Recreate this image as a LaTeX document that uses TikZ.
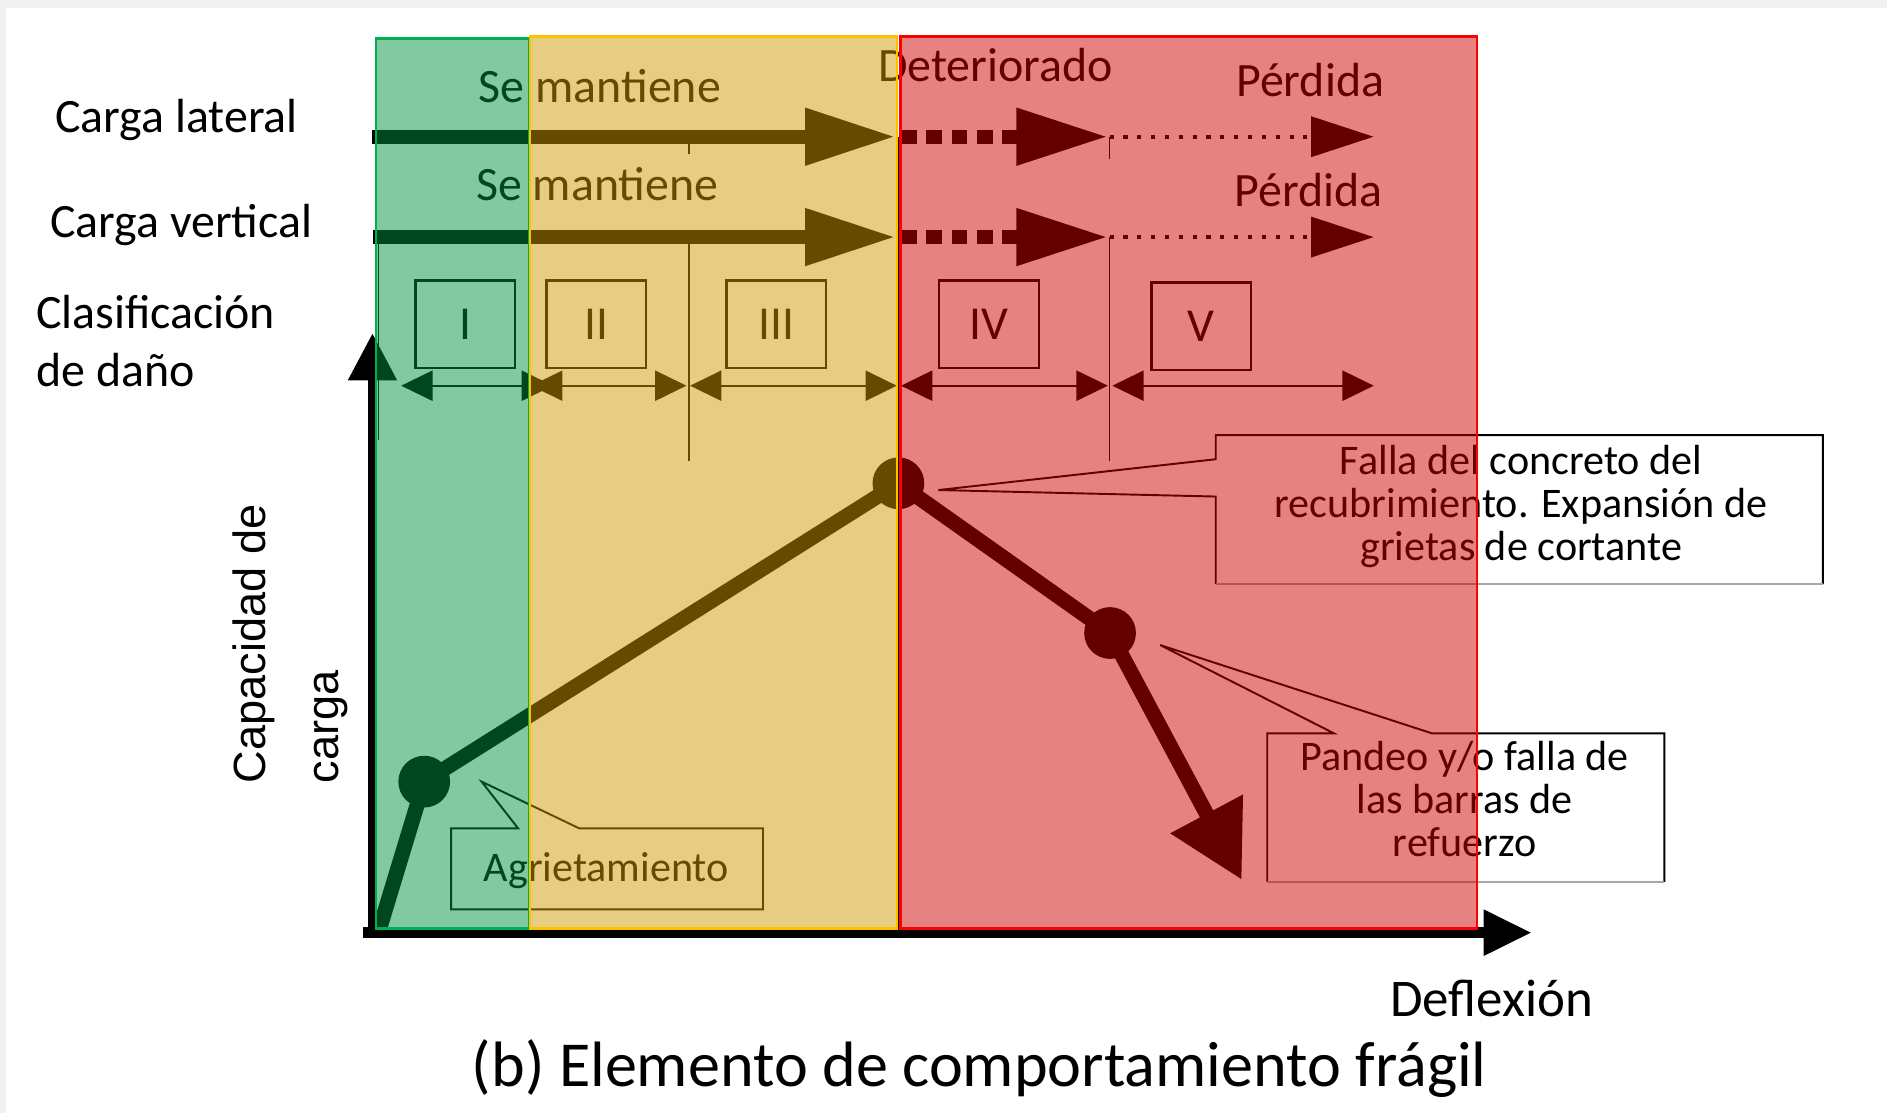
\documentclass[tikz,border=0pt]{standalone}
\usepackage{fontspec}
\setmainfont{Carlito}
\newfontfamily\arialfont{Liberation Sans}
\usetikzlibrary{arrows.meta}
\definecolor{ovgreen}{RGB}{0,143,65}
\definecolor{ovyellow}{RGB}{208,155,0}
\definecolor{ovred}{RGB}{208,0,0}
\definecolor{bdgreen}{RGB}{0,176,80}
\definecolor{bdyellow}{RGB}{255,192,0}
\definecolor{bdred}{RGB}{255,0,0}
\definecolor{bggray}{RGB}{240,240,240}
\begin{document}
\begin{tikzpicture}[x=1pt,y=-1pt,
  lbl/.style={inner sep=0pt, font=\fontsize{39.8}{47}\selectfont, anchor=base west},
  calltxt/.style={inner sep=0pt, font=\fontsize{35}{40}\selectfont, anchor=base},
  numtxt/.style={inner sep=0pt, font=\fontsize{39.3}{47}\selectfont},
  ylbl/.style={inner sep=0pt, font=\arialfont\fontsize{37.5}{45}\selectfont, anchor=base west, rotate=90},
  numbox/.style={draw=black, line width=2pt},
  solidarrow/.style={line width=11.5pt, -{Triangle[length=75pt,width=45pt]}},
  dasharrow/.style={line width=11.5pt, dash pattern=on 13pt off 8pt, -{Triangle[length=76pt,width=45pt]}},
  dotarrow/.style={line width=3.6pt, dash pattern=on 3.4pt off 8.1pt, -{Triangle[length=52pt,width=33pt]}},
  dimarrow/.style={line width=1.6pt, {Triangle[length=26pt,width=25pt]}-{Triangle[length=26pt,width=25pt]}},
  thinline/.style={line width=1.3pt},
  callout/.style={line width=1.6pt, line join=miter},
  curve/.style={line width=12.5pt, line join=round},
  dot/.style={fill=black},
  overlay/.style={fill opacity=0.49, draw opacity=1, line width=2pt}
]
\useasboundingbox (0,0) rectangle (1568,925);
% background
\fill[bggray] (0,0) rectangle (1568,925);
\fill[white] (5,7) rectangle (1568,925);

% ---------- coordinates ----------
\coordinate (latS) at (309,113.6);
\coordinate (latA) at (744,113.6);
\coordinate (latB) at (748.8,113.6);
\coordinate (latC) at (920.5,113.6);
\coordinate (latD) at (922,113.6);
\coordinate (latE) at (1141.5,113.6);
\coordinate (verS) at (310,197);
\coordinate (verA) at (744,197);
\coordinate (verB) at (748.8,197);
\coordinate (verC) at (920.5,197);
\coordinate (verD) at (922,197);
\coordinate (verE) at (1141.5,197);

% load arrows
\draw[solidarrow] (latS) -- (latA);
\draw[dasharrow] (latB) -- (latC);
\draw[dotarrow] (latD) -- (latE);
\draw[solidarrow] (verS) -- (verA);
\draw[dasharrow] (verB) -- (verC);
\draw[dotarrow] (verD) -- (verE);

% ticks and division lines
\coordinate (t1a) at (440.6,113.6); \coordinate (t1b) at (440.6,128);
\coordinate (t2a) at (572.6,113.6); \coordinate (t2b) at (572.6,128);
\coordinate (t3a) at (922,113.6);   \coordinate (t3b) at (922,132);
\draw[thinline] (t1a) -- (t1b);
\draw[thinline] (t2a) -- (t2b);
\draw[thinline] (t3a) -- (t3b);
\coordinate (v0a) at (314.4,197); \coordinate (v0b) at (314.4,366);
\coordinate (v1a) at (440.6,197); \coordinate (v1b) at (440.6,383);
\coordinate (v2a) at (572.6,197); \coordinate (v2b) at (572.6,383);
\coordinate (v3a) at (922,197);   \coordinate (v3b) at (922,383);
\coordinate (v4a) at (746.8,113.6); \coordinate (v4b) at (746.8,771);
\draw[thinline] (v0a) -- (v0b);
\draw[thinline] (v1a) -- (v1b);
\draw[thinline] (v2a) -- (v2b);
\draw[thinline] (v3a) -- (v3b);
\draw[line width=1.2pt] (v4a) -- (v4b);

% damage classification boxes
\node[numbox, minimum width=82.7pt, minimum height=72.8pt, inner sep=0pt, numtxt] (bI) at (386.5,269.6) {I};
\node[numbox, minimum width=82.7pt, minimum height=72.8pt, inner sep=0pt, numtxt] (bII) at (495.6,269.6) {II};
\node[numbox, minimum width=82.7pt, minimum height=72.8pt, inner sep=0pt, numtxt] (bIII) at (645,269.6) {III};
\node[numbox, minimum width=82.7pt, minimum height=72.8pt, inner sep=0pt, numtxt] (bIV) at (821.8,269.6) {IV};
\node[numbox, minimum width=82.7pt, minimum height=72.8pt, inner sep=0pt, numtxt] (bV) at (998.3,271) {V};

% dimension arrows
\coordinate (d1a) at (333.4,320.5); \coordinate (d1b) at (459.5,320.5);
\coordinate (d2a) at (441.4,320.5); \coordinate (d2b) at (570.4,320.5);
\coordinate (d3a) at (573.4,320.5); \coordinate (d3b) at (745.2,320.5);
\coordinate (d4a) at (748.7,320.5); \coordinate (d4b) at (920.5,320.5);
\coordinate (d5a) at (924.3,320.5); \coordinate (d5b) at (1141.5,320.5);
\draw[dimarrow] (d1a) -- (d1b);
\draw[dimarrow] (d2a) -- (d2b);
\draw[dimarrow] (d3a) -- (d3b);
\draw[dimarrow] (d4a) -- (d4b);
\draw[dimarrow] (d5a) -- (d5b);

% axes
\coordinate (yax0) at (309.5,779);
\coordinate (yax1) at (309.5,277);
\coordinate (xax0) at (302,775);
\coordinate (xax1) at (1272.8,775);
\draw[line width=7pt, -{Triangle[length=39pt,width=39pt]}] (yax0) -- (yax1);
\draw[line width=9pt, -{Triangle[length=40pt,width=36pt]}] (xax0) -- (xax1);

% capacity curve
\coordinate (p0) at (315,773);
\coordinate (p1) at (352.5,649.5);
\coordinate (p2) at (746.5,401.6);
\coordinate (p3) at (922.4,526);
\coordinate (p4) at (1031.8,731);
\draw[curve] (p0) -- (p1) -- (p2) -- (p3);
\draw[line width=12.5pt, -{Triangle[length=62pt,width=65pt]}] (p3) -- (p4);
\fill[dot] (p1) circle (21.5);
\fill[dot] (p2) circle (21.5);
\fill[dot] (p3) circle (21.5);

% callouts
\draw[callout] (481.3,688.3) -- (634,688.3) -- (634,755.6) -- (374.8,755.6) -- (374.8,688.3) -- (430.5,688.3) -- (400.2,649.5) -- cycle;
\node[inner sep=0pt, font=\fontsize{35}{40}\selectfont, anchor=base west] (agr) at (401.8,732.6) {Agrietamiento};

\draw[callout] (1010.2,485.3) -- (1010.2,412.6) -- (779.7,407.2) -- (1010.2,381.6) -- (1010.2,361.5) -- (1514.7,361.5) -- (1514.7,485.3);
\draw[line width=1.3pt, black!35] (1010.2,485.3) -- (1514.7,485.3);
\node[calltxt] (f1) at (1264,394) {Falla del concreto del};
\node[calltxt] (f2) at (1264,430) {recubrimiento. Expansión de};
\node[calltxt] (f3) at (1264,466) {grietas de cortante};

\draw[callout] (1053,732.7) -- (1053,609.4) -- (1108.5,609.4) -- (964,536) -- (1190,609.4) -- (1383,609.4) -- (1383,732.7);
\draw[line width=1.3pt, black!35] (1053,732.7) -- (1383,732.7);
\node[calltxt] (g1) at (1217,640) {Pandeo y/o falla de};
\node[calltxt] (g2) at (1217,676) {las barras de};
\node[calltxt] (g3) at (1217,712) {refuerzo};

% texts
\node[lbl] (tlat) at (45.7,110.2) {Carga lateral};
\node[lbl] (tver) at (41.5,197.2) {Carga vertical};
\node[lbl] (tcla) at (29.9,272.8) {Clasificación};
\node[lbl] (tdan) at (29.9,321.3) {de daño};
\node[lbl] (sm1) at (397.6,85.3) {Se mantiene};
\node[lbl] (sm2) at (395.5,166.2) {Se mantiene};
\node[lbl] (det) at (729.5,67.9) {Deteriorado};
\node[lbl] (per1) at (1027,80.3) {Pérdida};
\node[lbl] (per2) at (1025.5,171.7) {Pérdida};
\node[ylbl] (cap1) at (221,651) {Capacidad de};
\node[ylbl] (cap2) at (281,651) {carga};
\node[inner sep=0pt, font=\fontsize{44}{50}\selectfont, anchor=base west] (defl) at (1155,845) {Deflexión};
\node[inner sep=0pt, font=\fontsize{53.3}{60}\selectfont, anchor=base west] (capt) at (392,903) {(b) Elemento de comportamiento frágil};

% coloured overlays
\filldraw[overlay, fill=ovgreen, draw=bdgreen] (312.4,31.9) rectangle (439.5,771.4);
\filldraw[overlay, fill=ovyellow, draw=bdyellow] (440.6,30.2) rectangle (745.3,771.4);
\filldraw[overlay, fill=ovred, draw=bdred] (748.4,30.5) rectangle (1227.3,771.4);
\end{tikzpicture}
\end{document}
